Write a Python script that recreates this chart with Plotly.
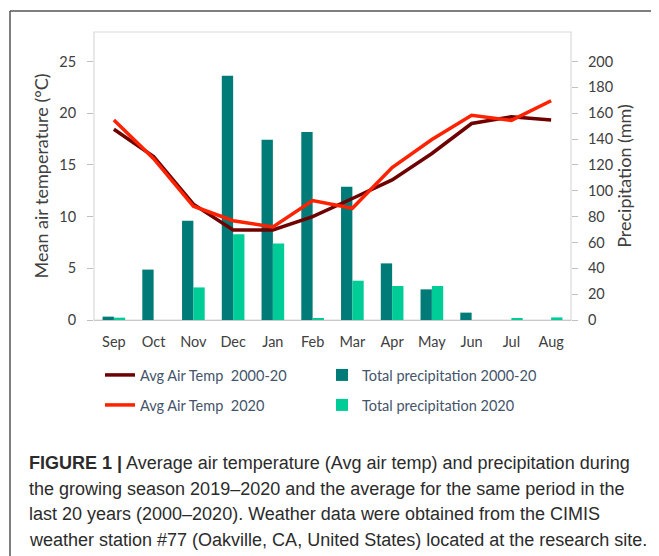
import plotly.graph_objects as go

# ---------------- data ----------------
months = ["Sep", "Oct", "Nov", "Dec", "Jan", "Feb", "Mar", "Apr", "May", "Jun", "Jul", "Aug"]
temp_avg_2000_20 = [18.45, 15.8, 11.2, 8.7, 8.7, 10.0, 11.75, 13.55, 16.1, 19.0, 19.65, 19.35]
temp_2020 = [19.35, 15.6, 11.0, 9.6, 9.0, 11.55, 10.8, 14.75, 17.45, 19.8, 19.3, 21.2]
precip_avg_2000_20 = [2.6, 39, 76.7, 189, 139.5, 145.4, 103, 43.8, 23.7, 5.7, 0, 0]
precip_2020 = [1.8, 0, 25.2, 66.4, 59.2, 1.0, 30.4, 26.3, 26.3, 0, 0.8, 2.0]
temp_ticks = [0, 5, 10, 15, 20, 25]
precip_ticks = [0, 20, 40, 60, 80, 100, 120, 140, 160, 180, 200]

caption_lines = [
    "<b>FIGURE 1 |</b> Average air temperature (Avg air temp) and precipitation during",
    "the growing season 2019–2020 and the average for the same period in the",
    "last 20 years (2000–2020). Weather data were obtained from the CIMIS",
    "weather station #77 (Oakville, CA, United States) located at the research site.",
]

# ---------------- layout helpers ----------------
# the page body adds an 8px margin, so the figure is drawn 8px smaller and offset
OFF = 8
W, H = 659 - OFF, 556 - OFF
L, R, T, B = 94, 571, 32, 320  # plot area in window pixels


def px_x(px):
    return (px - L) / (R - L)


def px_y(py):
    return (B - py) / (B - T)


TEXT = "#404040"
LEG = "#44546A"
FONT = "Lato"

fig = go.Figure()

# lines on the left (temperature) axis, overlaid above the bars
fig.add_trace(go.Scatter(x=months, y=temp_avg_2000_20, name="Avg Air Temp  2000-20", mode="lines",
                         line=dict(color="#6E0000", width=3.5), yaxis="y2", legend="legend"))
fig.add_trace(go.Bar(x=months, y=precip_avg_2000_20, name="Total precipitation 2000-20",
                     marker=dict(color="#007B77", line=dict(width=0)), yaxis="y", legend="legend"))
fig.add_trace(go.Scatter(x=months, y=temp_2020, name="Avg Air Temp  2020", mode="lines",
                         line=dict(color="#FF2200", width=3.5), yaxis="y2", legend="legend2"))
fig.add_trace(go.Bar(x=months, y=precip_2020, name="Total precipitation 2020",
                     marker=dict(color="#00CC98", line=dict(width=0)), yaxis="y", legend="legend2"))

axis_font = dict(family=FONT, size=14.5, color=TEXT)

leg_common = dict(orientation="h", x=px_x(100), xanchor="left", yanchor="middle",
                  traceorder="normal", entrywidth=177, entrywidthmode="pixels",
                  font=dict(family=FONT, size=14.5, color=LEG), bgcolor="rgba(0,0,0,0)", itemwidth=30)

fig.update_layout(
    width=W, height=H, autosize=False,
    margin=dict(l=L - OFF, r=W - (R - OFF), t=T - OFF, b=H - (B - OFF), pad=0),
    paper_bgcolor="white", plot_bgcolor="white",
    font=dict(family=FONT, color=TEXT),
    barmode="group", bargap=0.43, bargroupgap=0,
    showlegend=True,
    xaxis=dict(type="category", categoryorder="array", categoryarray=months,
               showgrid=False, zeroline=False, showline=True, linecolor="#c8c8c8", linewidth=1.2,
               ticks="", tickfont=axis_font, ticklabelstandoff=8),
    yaxis=dict(side="right", range=[0, 222.8], tickvals=precip_ticks, showgrid=False, zeroline=False,
               showline=False, ticks="outside", ticklen=6, tickcolor="#bfbfbf", tickwidth=1,
               tickfont=axis_font, ticklabelstandoff=7,
               title=dict(text="Precipitation (mm)", font=dict(family=FONT, size=18, color=TEXT), standoff=4)),
    yaxis2=dict(side="left", overlaying="y", range=[0, 27.85], tickvals=temp_ticks, showgrid=False,
                zeroline=False, showline=False, ticks="outside", ticklen=6, tickcolor="#bfbfbf",
                tickwidth=1, tickfont=axis_font, ticklabelstandoff=8,
                title=dict(text="Mean air temperature (°C)", font=dict(family=FONT, size=18, color=TEXT),
                           standoff=5)),
    legend=dict(y=px_y(375), **leg_common),
    legend2=dict(y=px_y(405), **leg_common),
)

# plot-area frame and outer figure frame
fig.add_shape(type="rect", xref="paper", yref="paper", x0=0, x1=1, y0=0, y1=1,
              line=dict(color="#d9d9d9", width=1.2), fillcolor="rgba(0,0,0,0)", layer="below")
fig.add_shape(type="line", xref="paper", yref="paper", x0=px_x(10), x1=px_x(672), y0=px_y(11), y1=px_y(11),
              line=dict(color="#555555", width=1.5))
fig.add_shape(type="line", xref="paper", yref="paper", x0=px_x(10), x1=px_x(10), y0=px_y(11), y1=px_y(570),
              line=dict(color="#555555", width=1.5))

# caption
cap_y = [463, 488.5, 514, 539.5]
for line, yy in zip(caption_lines, cap_y):
    fig.add_annotation(text=line, xref="paper", yref="paper", x=px_x(27), y=px_y(yy),
                       xanchor="left", yanchor="middle", showarrow=False, align="left",
                       font=dict(family="Liberation Sans", size=18, color="#2b2b2b"))

fig.write_html("out.html")
